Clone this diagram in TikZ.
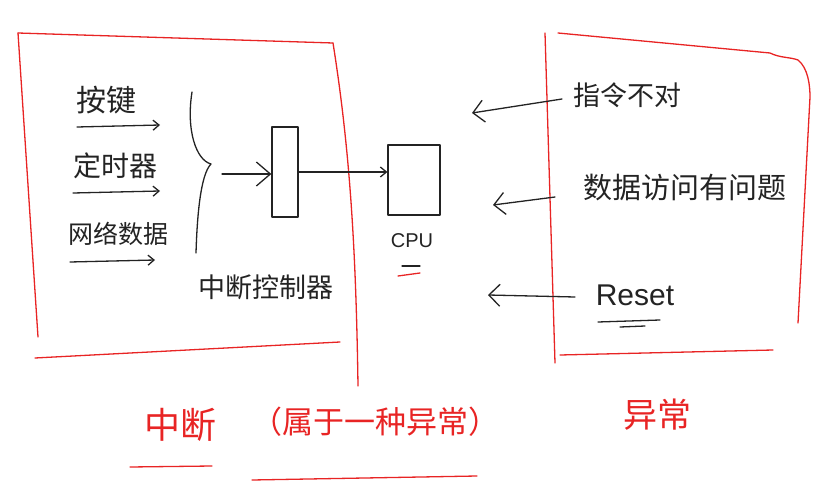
\documentclass[tikz,border=0pt]{standalone}
\usepackage{fontspec}
\setmainfont{Liberation Sans}
\newfontfamily\cjk{Noto Sans CJK SC}
\usetikzlibrary{arrows.meta}
\definecolor{pen}{RGB}{35,35,35}
\definecolor{redpen}{RGB}{232,36,36}
\begin{document}
\begin{tikzpicture}[x=1pt,y=-1pt, line cap=round, line join=round,
  ink/.style={draw=pen, line width=1.3pt},
  redink/.style={draw=redpen, line width=1.3pt},
  lbl/.style={text=pen, inner sep=0pt, font=\cjk\fontsize{27}{27}\selectfont},
  redlbl/.style={text=redpen, inner sep=0pt},
  smallarrow/.style={ink, -{Straight Barb[length=6pt,width=10pt]}},
  bigarrow/.style={ink, -{Straight Barb[length=11pt,width=22pt]}},
  boxnode/.style={draw=pen, line width=1.3pt, inner sep=0pt}]
\useasboundingbox (0,0) rectangle (830,497);

% left red frame
\draw[redink] (18,33) -- (333,43);
\draw[redink] (18,33) -- (38,337);
\draw[redink] (35,358) -- (340,342);
\draw[redink] (333,43) .. controls (350,150) and (356,250) .. (358,386);

% right red frame
\draw[redink] (545,33) -- (555,363);
\draw[redink] (558,33) -- (770,53) .. controls (780,58) and (790,57) .. (798,60)
  .. controls (808,68) and (810,85) .. (810,97) -- (798,323);
\draw[redink] (560,355) -- (773,350);

% inputs
\node[lbl, font=\cjk\fontsize{30}{30}\selectfont] (key) at (106,100) {按键};
\node[lbl, font=\cjk\fontsize{28}{28}\selectfont] (timer) at (115,166) {定时器};
\node[lbl, font=\cjk\fontsize{25}{25}\selectfont] (net) at (118,234) {网络数据};
\coordinate (keyA) at (77,127);   \coordinate (keyB) at (160,125);
\coordinate (timA) at (73,193);   \coordinate (timB) at (160,191);
\coordinate (netA) at (70,262);   \coordinate (netB) at (155,260);
\draw[smallarrow] (keyA) -- (keyB);
\draw[smallarrow] (timA) -- (timB);
\draw[smallarrow] (netA) -- (netB);

% brace
\coordinate (braceTip) at (211,164);
\draw[ink] (192,92) .. controls (186,130) and (196,160) .. (braceTip)
  .. controls (200,175) and (197,220) .. (196,253);

% interrupt controller
\node[boxnode, minimum width=26pt, minimum height=90pt] (ctl) at (285,172) {};
\node[lbl] (ctllbl) at (266,287) {中断控制器};
\coordinate (ctlIn) at (222,174);
\draw[ink, -{Straight Barb[length=14pt,width=24pt]}] (ctlIn) -- (ctl.west |- ctlIn);

% CPU
\node[boxnode, minimum width=52pt, minimum height=70pt] (cpu) at (414,180) {};
\node[text=pen, inner sep=0pt, font=\fontsize{20}{20}\selectfont] (cpulbl) at (412,241) {CPU};
\draw[smallarrow] (ctl.east) -- (ctl.east -| cpu.west);
\coordinate (cpuUL1) at (402,266); \coordinate (cpuUL2) at (420,266);
\draw[ink] (cpuUL1) -- (cpuUL2);
\coordinate (cpuUL3) at (398,276); \coordinate (cpuUL4) at (420,273);
\draw[redink] (cpuUL3) -- (cpuUL4);

% exceptions
\node[lbl] (instr) at (627,95) {指令不对};
\node[lbl, font=\cjk\fontsize{29}{29}\selectfont] (data) at (685,188) {数据访问有问题};
\node[text=pen, inner sep=0pt, font=\fontsize{30}{30}\selectfont] (reset) at (635,295) {Reset};
\coordinate (rsA) at (598,322); \coordinate (rsB) at (660,320);
\coordinate (rsC) at (620,327); \coordinate (rsD) at (645,326);
\draw[ink] (rsA) -- (rsB);
\draw[ink] (rsC) -- (rsD);

\coordinate (e1s) at (562,99);  \coordinate (e1t) at (472,113);
\coordinate (e2s) at (555,197); \coordinate (e2t) at (493,205);
\coordinate (e3s) at (575,297); \coordinate (e3t) at (488,295);
\draw[bigarrow] (e1s) -- (e1t);
\draw[bigarrow] (e2s) -- (e2t);
\draw[bigarrow] (e3s) -- (e3t);

% bottom red labels
\node[redlbl, font=\cjk\fontsize{36}{36}\selectfont] (intr) at (180,425) {中断};
\coordinate (iuA) at (130,467); \coordinate (iuB) at (212,466);
\draw[redink] (iuA) -- (iuB);
\node[redlbl, font=\cjk\fontsize{31}{31}\selectfont] (intrnote) at (375,422) {（属于一种异常）};
\coordinate (nuA) at (252,480); \coordinate (nuB) at (477,476);
\draw[redink] (nuA) -- (nuB);
\node[redlbl, font=\cjk\fontsize{34}{34}\selectfont] (exc) at (657,415) {异常};
\end{tikzpicture}
\end{document}
